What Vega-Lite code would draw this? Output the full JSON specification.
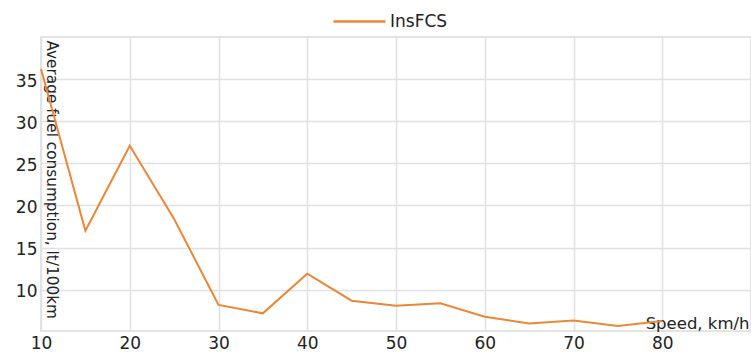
{
  "$schema": "https://vega.github.io/schema/vega-lite/v6.json",
  "width": 710,
  "height": 294,
  "autosize": {"type": "none"},
  "padding": {"left": 41, "top": 37, "right": 0, "bottom": 23},
  "background": "white",
  "config": {
    "view": {"stroke": "#dcdcdc", "strokeWidth": 1.5},
    "font": "DejaVu Sans",
    "axis": {"gridColor": "#e2e0e2", "gridWidth": 1.5, "domain": false, "ticks": false, "labelColor": "#222222", "labelFontSize": 17, "titleFontWeight": "normal", "titleColor": "#222222", "labelFont": "DejaVu Sans", "titleFont": "DejaVu Sans"},
    "legend": {"labelFont": "DejaVu Sans"}
  },
  "data": {
    "values": [
      {"speed": 10, "fc": 36.2, "series": "InsFCS"},
      {"speed": 15, "fc": 17.0, "series": "InsFCS"},
      {"speed": 20, "fc": 27.1, "series": "InsFCS"},
      {"speed": 25, "fc": 18.4, "series": "InsFCS"},
      {"speed": 30, "fc": 8.2, "series": "InsFCS"},
      {"speed": 35, "fc": 7.2, "series": "InsFCS"},
      {"speed": 40, "fc": 11.9, "series": "InsFCS"},
      {"speed": 45, "fc": 8.7, "series": "InsFCS"},
      {"speed": 50, "fc": 8.1, "series": "InsFCS"},
      {"speed": 55, "fc": 8.4, "series": "InsFCS"},
      {"speed": 60, "fc": 6.8, "series": "InsFCS"},
      {"speed": 65, "fc": 6.0, "series": "InsFCS"},
      {"speed": 70, "fc": 6.35, "series": "InsFCS"},
      {"speed": 75, "fc": 5.7, "series": "InsFCS"},
      {"speed": 80, "fc": 6.3, "series": "InsFCS"}
    ]
  },
  "mark": {"type": "line", "strokeWidth": 2, "clip": false},
  "encoding": {
    "x": {
      "field": "speed", "type": "quantitative",
      "scale": {"domain": [10, 90], "nice": false, "zero": false},
      "axis": {"values": [10, 20, 30, 40, 50, 60, 70, 80], "title": "Speed, km/h", "titleX": 708, "titleY": -3, "titleAlign": "right", "titleBaseline": "alphabetic", "titleFontSize": 16.5, "labelPadding": 4, "labelFlush": false}
    },
    "y": {
      "field": "fc", "type": "quantitative",
      "scale": {"domain": [5.1, 40], "nice": false, "zero": false},
      "axis": {"values": [10, 15, 20, 25, 30, 35], "title": "Average fuel consumption, lt/100km", "titleAngle": 90, "titleX": 5, "titleY": 3, "titleAlign": "left", "titleBaseline": "alphabetic", "titleFontSize": 15.3, "labelPadding": 4, "labelOffset": 2}
    },
    "color": {
      "field": "series", "type": "nominal",
      "scale": {"range": ["#e8873a"]},
      "legend": {"orient": "none", "legendX": 291, "legendY": -43, "title": null, "symbolType": "stroke", "symbolSize": 2704, "symbolStrokeWidth": 2.5, "labelFontSize": 17, "labelOffset": 3, "labelColor": "#222222"}
    }
  }
}
